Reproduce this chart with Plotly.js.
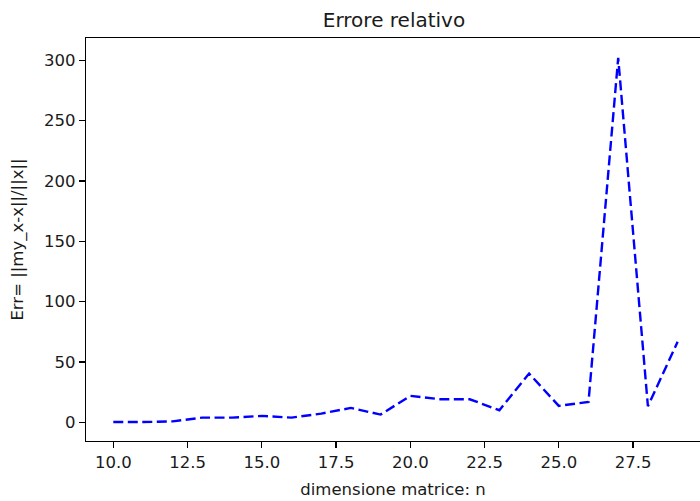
<!DOCTYPE html>
<html>
<head>
<meta charset="utf-8">
<script src="https://cdn.plot.ly/plotly-3.0.1.min.js"></script>
<style>
html, body { margin: 0; padding: 0; background: #fff; }
#chart { width: 700px; height: 501px; }
</style>
</head>
<body>
<div id="chart"></div>
<script>
const dimensions = [10, 11, 12, 13, 14, 15, 16, 17, 18, 19, 20, 21, 22, 23, 24, 25, 26, 27, 28, 29];
const relativeError = [0.3, 0.2, 0.8, 3.9, 3.9, 5.3, 3.9, 7.2, 11.9, 6.4, 21.9, 19.1, 19.1, 10.0, 40.4, 13.6, 16.9, 302, 13.3, 66.7];
const xTickValues = [10, 12.5, 15, 17.5, 20, 22.5, 25, 27.5];
const xTickLabels = ["10.0", "12.5", "15.0", "17.5", "20.0", "22.5", "25.0", "27.5"];
const yTickValues = [0, 50, 100, 150, 200, 250, 300];
const yTickLabels = ["0", "50", "100", "150", "200", "250", "300"];

const FONT = "DejaVu Sans, sans-serif";
const TEXT = "#1a1a1a";

const trace = {
  x: dimensions,
  y: relativeError,
  type: "scatter",
  mode: "lines",
  line: { color: "#0000ff", width: 2.4, dash: "10px,4.5px" },
  hoverinfo: "skip"
};

const layout = {
  width: 700,
  height: 501,
  paper_bgcolor: "#ffffff",
  plot_bgcolor: "#ffffff",
  margin: { l: 86, r: 0, t: 38, b: 60, pad: 0 },
  showlegend: false,
  font: { family: FONT, size: 16.5, color: TEXT },
  title: {
    text: "Errore relativo",
    font: { family: FONT, size: 20, color: TEXT },
    x: 394 / 700, xref: "container", xanchor: "center",
    y: 1 - 20 / 501, yref: "container", yanchor: "middle"
  },
  xaxis: {
    range: [9.081, 29.754],
    tickmode: "array",
    tickvals: xTickValues,
    ticktext: xTickLabels,
    ticks: "outside",
    ticklen: 6,
    tickwidth: 1.3,
    tickcolor: "#000000",
    showline: true,
    linecolor: "#000000",
    linewidth: 1.3,
    mirror: true,
    showgrid: false,
    zeroline: false,
    tickfont: { family: FONT, size: 16.5, color: TEXT },
    title: {
      text: "dimensione matrice: n",
      font: { family: FONT, size: 16.5, color: TEXT },
      standoff: 12
    },
    automargin: false
  },
  yaxis: {
    range: [-15.5, 318.5],
    tickmode: "array",
    tickvals: yTickValues,
    ticktext: yTickLabels,
    ticks: "outside",
    ticklen: 6,
    tickwidth: 1.3,
    tickcolor: "#000000",
    showline: true,
    linecolor: "#000000",
    linewidth: 1.3,
    mirror: false,
    showgrid: false,
    zeroline: false,
    tickfont: { family: FONT, size: 16.5, color: TEXT },
    title: {
      text: "Err= ||my_x-x||/||x||",
      font: { family: FONT, size: 16.5, color: TEXT },
      standoff: 16
    },
    automargin: false
  }
};

Plotly.newPlot("chart", [trace], layout, { staticPlot: true, displayModeBar: false });
</script>
</body>
</html>
